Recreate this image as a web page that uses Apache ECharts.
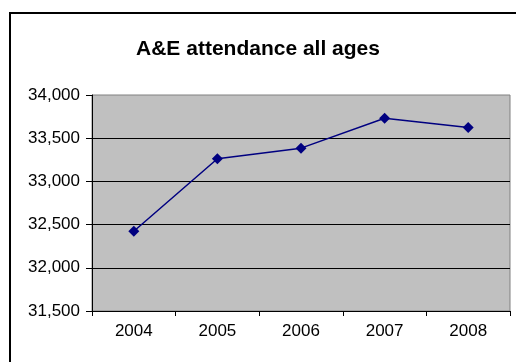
<!DOCTYPE html>
<html>
<head>
<meta charset="utf-8">
<script src="https://cdn.jsdelivr.net/npm/echarts@6/dist/echarts.min.js"></script>
<style>
  html, body { margin: 0; padding: 0; background: #fff; }
  #chart { width: 516px; height: 362px; }
</style>
</head>
<body>
<div id="chart"></div>
<script>
// chart data
const years = ['2004', '2005', '2006', '2007', '2008'];
const attendance = [32423, 33262, 33385, 33731, 33623];
const yMin = 31500;
const yMax = 34000;
const yStep = 500;

const chart = echarts.init(document.getElementById('chart'));
const font = "'Liberation Sans', Arial, sans-serif";

const option = {
  backgroundColor: '#fff',
  animation: false,
  title: {
    text: 'A&E attendance all ages',
    left: 'center',
    top: 34,
    textStyle: { fontFamily: font, fontSize: 21, fontWeight: 'bold', color: '#000' }
  },
  // outer chart frame, runs off the right/bottom edge like the original
  graphic: [{
    type: 'rect',
    shape: { x: 10, y: 13, width: 560, height: 420 },
    style: { fill: null, stroke: '#000', lineWidth: 2 },
    silent: true
  }],
  grid: {
    left: 92,
    right: 6,
    top: 95,
    bottom: 51,
    show: true,
    backgroundColor: '#C0C0C0',
    borderColor: '#808080',
    borderWidth: 1
  },
  xAxis: {
    type: 'category',
    data: years,
    boundaryGap: true,
    axisLine: { lineStyle: { color: '#000', width: 1 } },
    axisTick: { show: true, length: 5, lineStyle: { color: '#000' } },
    axisLabel: { fontFamily: font, fontSize: 17, color: '#000', margin: 12 }
  },
  yAxis: {
    type: 'value',
    min: yMin,
    max: yMax,
    interval: yStep,
    axisLine: { show: true, lineStyle: { color: '#000', width: 1 } },
    axisTick: { show: true, length: 6, lineStyle: { color: '#000' } },
    axisLabel: {
      fontFamily: font, fontSize: 17, color: '#000', margin: 12,
      formatter: v => v.toLocaleString('en-US')
    },
    splitLine: { show: true, showMaxLine: false, lineStyle: { color: '#000', width: 1 } }
  },
  series: [{
    type: 'line',
    data: attendance,
    symbol: 'diamond',
    symbolSize: 11,
    lineStyle: { color: '#000080', width: 1.5 },
    itemStyle: { color: '#000080' }
  }]
};

chart.setOption(option);
</script>
</body>
</html>
